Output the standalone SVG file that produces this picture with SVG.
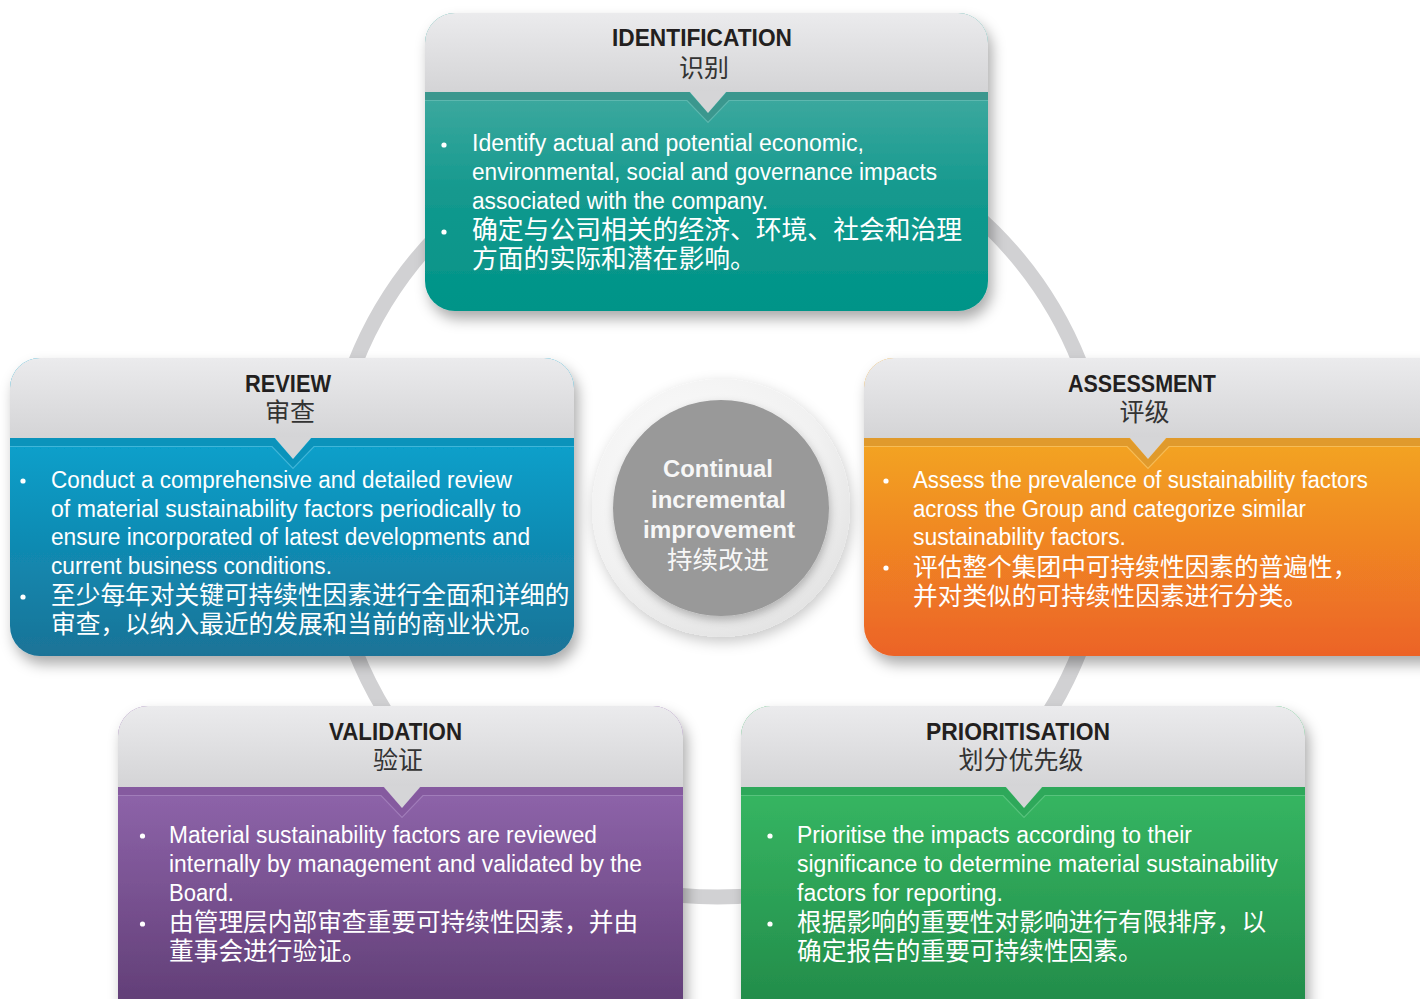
<svg xmlns="http://www.w3.org/2000/svg" width="1420" height="999" viewBox="0 0 1420 999">
  <defs>
    <style>
      .ttl { font-family: "Liberation Sans", Arial, sans-serif; font-weight: bold; font-size: 23px; fill: #231f20; text-anchor: middle; }
      .ttlc { font-family: "Noto Sans CJK SC", sans-serif; font-size: 25px; fill: #333333; text-anchor: middle; }
      .en { font-family: "Liberation Sans", Arial, sans-serif; font-size: 23px; fill: #ffffff; }
      .zh { font-family: "Noto Sans CJK SC", sans-serif; font-size: 24.7px; fill: #ffffff; }
      .zhb { font-family: "Noto Sans CJK SC", sans-serif; font-size: 25.8px; fill: #ffffff; }
      .ctr { font-family: "Liberation Sans", Arial, sans-serif; font-weight: bold; font-size: 23px; fill: #f7f7f7; text-anchor: middle; }
      .ctrc { font-family: "Noto Sans CJK SC", sans-serif; font-size: 25.5px; fill: #f7f7f7; text-anchor: middle; }
      .dot { fill: #ffffff; }
      .hdr { fill: url(#hdr); }
      .ring { fill: none; stroke: #d1d1d3; stroke-width: 15; }
    </style>
    <linearGradient id="hdr" x1="0" y1="0" x2="0" y2="1">
      <stop offset="0" stop-color="#ebebed"/>
      <stop offset="1" stop-color="#d4d4d6"/>
    </linearGradient>
    <linearGradient id="g-teal" x1="0" y1="0" x2="0" y2="1">
      <stop offset="0.27" stop-color="#3ea99f"/>
      <stop offset="0.6" stop-color="#14998e"/>
      <stop offset="1" stop-color="#009488"/>
    </linearGradient>
    <linearGradient id="g-blue" x1="0" y1="0" x2="0" y2="1">
      <stop offset="0.27" stop-color="#06a1cc"/>
      <stop offset="1" stop-color="#1b7397"/>
    </linearGradient>
    <linearGradient id="g-orange" x1="0" y1="0" x2="0" y2="1">
      <stop offset="0.27" stop-color="#f3a522"/>
      <stop offset="1" stop-color="#ec6326"/>
    </linearGradient>
    <linearGradient id="g-purple" x1="0" y1="0" x2="0" y2="1">
      <stop offset="0.25" stop-color="#8e64aa"/>
      <stop offset="1" stop-color="#5a386e"/>
    </linearGradient>
    <linearGradient id="g-green" x1="0" y1="0" x2="0" y2="1">
      <stop offset="0.25" stop-color="#36b662"/>
      <stop offset="1" stop-color="#1f8546"/>
    </linearGradient>
    <radialGradient id="g-halo" cx="0.4" cy="0.35" r="0.7">
      <stop offset="0" stop-color="#fdfdfd"/>
      <stop offset="0.7" stop-color="#f1f1f1"/>
      <stop offset="1" stop-color="#e2e2e2"/>
    </radialGradient>
    <filter id="shadow" x="-10%" y="-10%" width="125%" height="130%">
      <feDropShadow dx="4" dy="8" stdDeviation="7" flood-color="#000000" flood-opacity="0.33"/>
    </filter>
    <filter id="soft" x="-20%" y="-20%" width="140%" height="140%">
      <feDropShadow dx="2" dy="5" stdDeviation="7" flood-color="#000000" flood-opacity="0.22"/>
    </filter>
    <filter id="disc" x="-20%" y="-20%" width="140%" height="140%">
      <feDropShadow dx="1" dy="4" stdDeviation="4" flood-color="#000000" flood-opacity="0.25"/>
    </filter>
    <clipPath id="c-ident"><rect x="425" y="13" width="563" height="298" rx="30"/></clipPath>
    <clipPath id="c-review"><rect x="10" y="358" width="564" height="298" rx="30"/></clipPath>
    <clipPath id="c-assess"><rect x="864" y="358" width="600" height="298" rx="30"/></clipPath>
    <clipPath id="c-valid"><rect x="118" y="706" width="565" height="334" rx="30"/></clipPath>
    <clipPath id="c-prior"><rect x="741" y="706" width="564" height="334" rx="30"/></clipPath>
  </defs>

  <rect width="1420" height="999" fill="#ffffff"/>

  <!-- cycle ring linking the five stages -->
  <g id="connectors">
    <circle class="ring" cx="717.5" cy="507" r="390"/>
  </g>

  <!-- hub -->
  <g id="hub">
    <circle cx="721" cy="508" r="129" fill="url(#g-halo)" filter="url(#soft)"/>
    <circle cx="721" cy="508" r="108" fill="#999999" filter="url(#disc)"/>
    <text class="ctr" x="718" y="477" textLength="110" lengthAdjust="spacingAndGlyphs">Continual</text>
    <text class="ctr" x="718.5" y="508" textLength="135" lengthAdjust="spacingAndGlyphs">incremental</text>
    <text class="ctr" x="719" y="538" textLength="152" lengthAdjust="spacingAndGlyphs">improvement</text>
    <text class="ctrc" x="718" y="569">持续改进</text>
  </g>

  <!-- IDENTIFICATION -->
  <g id="identification">
    <rect x="425" y="13" width="563" height="298" rx="30" fill="url(#g-teal)" filter="url(#shadow)"/>
    <g clip-path="url(#c-ident)">
      <rect class="hdr" x="425" y="13" width="563" height="79"/>
      <path d="M425 92 H689 L708 113 L727 92 H988 V100 H729 L708 122 L687 100 H425 Z" fill="#3b978e"/>
      <polygon points="689,91 727,91 708,113" fill="#d5d5d7"/>
      <polyline points="425,100.5 687,100.5 708,122.5 729,100.5 988,100.5" fill="none" stroke="#66bbb3" stroke-width="1.2" opacity="0.8"/>
    </g>
    <text class="ttl" x="702" y="46" textLength="180" lengthAdjust="spacingAndGlyphs">IDENTIFICATION</text>
    <text class="ttlc" x="704" y="77">识别</text>
    <circle class="dot" cx="444" cy="145" r="2.6"/>
    <circle class="dot" cx="444" cy="232" r="2.6"/>
    <text class="en" x="472" y="151" textLength="392" lengthAdjust="spacingAndGlyphs">Identify actual and potential economic,</text>
    <text class="en" x="472" y="180" textLength="465" lengthAdjust="spacingAndGlyphs">environmental, social and governance impacts</text>
    <text class="en" x="472" y="209" textLength="296" lengthAdjust="spacingAndGlyphs">associated with the company.</text>
    <text class="zhb" x="472" y="239">确定与公司相关的经济、环境、社会和治理</text>
    <text class="zhb" x="472" y="268">方面的实际和潜在影响。</text>
  </g>

  <!-- REVIEW -->
  <g id="review">
    <rect x="10" y="358" width="564" height="298" rx="30" fill="url(#g-blue)" filter="url(#shadow)"/>
    <g clip-path="url(#c-review)">
      <rect class="hdr" x="10" y="358" width="564" height="80"/>
      <path d="M10 438 H274 L293 459 L312 438 H574 V446 H314 L293 468 L272 446 H10 Z" fill="#0b93bb"/>
      <polygon points="274,437 312,437 293,459" fill="#d5d5d7"/>
      <polyline points="10,446.5 272,446.5 293,468.5 314,446.5 574,446.5" fill="none" stroke="#4fbcdc" stroke-width="1.2" opacity="0.8"/>
    </g>
    <text class="ttl" x="288" y="392" textLength="86" lengthAdjust="spacingAndGlyphs">REVIEW</text>
    <text class="ttlc" x="290" y="421">审查</text>
    <circle class="dot" cx="23" cy="481" r="2.6"/>
    <circle class="dot" cx="23" cy="597" r="2.6"/>
    <text class="en" x="51" y="488" textLength="461" lengthAdjust="spacingAndGlyphs">Conduct a comprehensive and detailed review</text>
    <text class="en" x="51" y="517" textLength="470" lengthAdjust="spacingAndGlyphs">of material sustainability factors periodically to</text>
    <text class="en" x="51" y="545" textLength="479" lengthAdjust="spacingAndGlyphs">ensure incorporated of latest developments and</text>
    <text class="en" x="51" y="574" textLength="281" lengthAdjust="spacingAndGlyphs">current business conditions.</text>
    <text class="zh" x="51" y="604">至少每年对关键可持续性因素进行全面和详细的</text>
    <text class="zh" x="51" y="633">审查，以纳入最近的发展和当前的商业状况。</text>
  </g>

  <!-- ASSESSMENT -->
  <g id="assessment">
    <rect x="864" y="358" width="600" height="298" rx="30" fill="url(#g-orange)" filter="url(#shadow)"/>
    <g clip-path="url(#c-assess)">
      <rect class="hdr" x="864" y="358" width="600" height="80"/>
      <path d="M864 438 H1129 L1148 459 L1167 438 H1464 V446 H1169 L1148 468 L1127 446 H864 Z" fill="#e09a2c"/>
      <polygon points="1129,437 1167,437 1148,459" fill="#d5d5d7"/>
      <polyline points="864,446.5 1127,446.5 1148,468.5 1169,446.5 1464,446.5" fill="none" stroke="#f7c363" stroke-width="1.2" opacity="0.8"/>
    </g>
    <text class="ttl" x="1142" y="392" textLength="148" lengthAdjust="spacingAndGlyphs">ASSESSMENT</text>
    <text class="ttlc" x="1144.5" y="421">评级</text>
    <circle class="dot" cx="886" cy="481" r="2.6"/>
    <circle class="dot" cx="886" cy="568" r="2.6"/>
    <text class="en" x="913" y="488" textLength="455" lengthAdjust="spacingAndGlyphs">Assess the prevalence of sustainability factors</text>
    <text class="en" x="913" y="517" textLength="393" lengthAdjust="spacingAndGlyphs">across the Group and categorize similar</text>
    <text class="en" x="913" y="545" textLength="213" lengthAdjust="spacingAndGlyphs">sustainability factors.</text>
    <text class="zh" x="913" y="576">评估整个集团中可持续性因素的普遍性，</text>
    <text class="zh" x="913" y="605">并对类似的可持续性因素进行分类。</text>
  </g>

  <!-- VALIDATION -->
  <g id="validation">
    <rect x="118" y="706" width="565" height="334" rx="30" fill="url(#g-purple)" filter="url(#shadow)"/>
    <g clip-path="url(#c-valid)">
      <rect class="hdr" x="118" y="706" width="565" height="81"/>
      <path d="M118 787 H383 L402 808 L421 787 H683 V795 H423 L402 817 L381 795 H118 Z" fill="#855a9f"/>
      <polygon points="383,786 421,786 402,808" fill="#d5d5d7"/>
      <polyline points="118,795.5 381,795.5 402,817.5 423,795.5 683,795.5" fill="none" stroke="#a683be" stroke-width="1.2" opacity="0.8"/>
    </g>
    <text class="ttl" x="395.5" y="740" textLength="133" lengthAdjust="spacingAndGlyphs">VALIDATION</text>
    <text class="ttlc" x="398" y="769">验证</text>
    <circle class="dot" cx="142.5" cy="836" r="2.6"/>
    <circle class="dot" cx="142.5" cy="924" r="2.6"/>
    <text class="en" x="169" y="843" textLength="428" lengthAdjust="spacingAndGlyphs">Material sustainability factors are reviewed</text>
    <text class="en" x="169" y="872" textLength="473" lengthAdjust="spacingAndGlyphs">internally by management and validated by the</text>
    <text class="en" x="169" y="901" textLength="65" lengthAdjust="spacingAndGlyphs">Board.</text>
    <text class="zh" x="169" y="931">由管理层内部审查重要可持续性因素，并由</text>
    <text class="zh" x="169" y="960">董事会进行验证。</text>
  </g>

  <!-- PRIORITISATION -->
  <g id="prioritisation">
    <rect x="741" y="706" width="564" height="334" rx="30" fill="url(#g-green)" filter="url(#shadow)"/>
    <g clip-path="url(#c-prior)">
      <rect class="hdr" x="741" y="706" width="564" height="81"/>
      <path d="M741 787 H1005 L1024 808 L1043 787 H1305 V795 H1045 L1024 817 L1003 795 H741 Z" fill="#2ea85a"/>
      <polygon points="1005,786 1043,786 1024,808" fill="#d5d5d7"/>
      <polyline points="741,795.5 1003,795.5 1024,817.5 1045,795.5 1305,795.5" fill="none" stroke="#62c785" stroke-width="1.2" opacity="0.8"/>
    </g>
    <text class="ttl" x="1018" y="740" textLength="184" lengthAdjust="spacingAndGlyphs">PRIORITISATION</text>
    <text class="ttlc" x="1021" y="769">划分优先级</text>
    <circle class="dot" cx="770" cy="836" r="2.6"/>
    <circle class="dot" cx="770" cy="924" r="2.6"/>
    <text class="en" x="797" y="843" textLength="395" lengthAdjust="spacingAndGlyphs">Prioritise the impacts according to their</text>
    <text class="en" x="797" y="872" textLength="481" lengthAdjust="spacingAndGlyphs">significance to determine material sustainability</text>
    <text class="en" x="797" y="901" textLength="206" lengthAdjust="spacingAndGlyphs">factors for reporting.</text>
    <text class="zh" x="797" y="931">根据影响的重要性对影响进行有限排序，以</text>
    <text class="zh" x="797" y="960">确定报告的重要可持续性因素。</text>
  </g>
</svg>
